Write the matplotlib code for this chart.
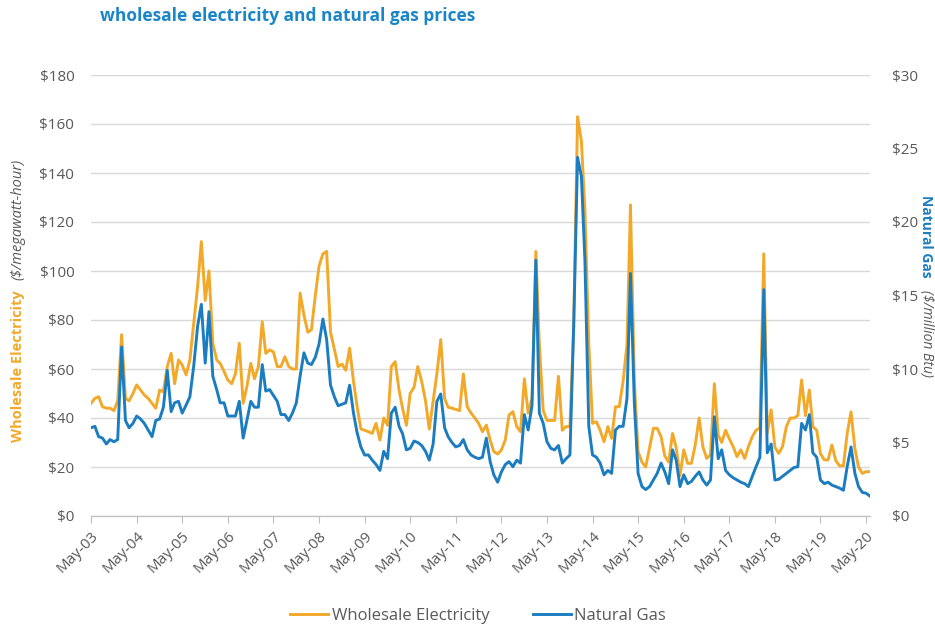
import matplotlib
matplotlib.use("Agg")
import matplotlib.pyplot as plt
import pandas as pd

# Monthly wholesale electricity ($/MWh) and natural gas ($/MMBtu), May-03 .. Jun-20
electricity = [
    46, 48, 48.7, 44.6, 44, 44, 43, 47, 74, 48, 47, 50,
    53.5, 51.4, 49.4, 48, 46, 44, 51.4, 50.7, 61, 66.4, 54, 63.7,
    61.6, 57.6, 63.7, 78.6, 93.6, 112, 88, 100, 70.5, 63.7, 62.3, 59,
    55.5, 54, 58, 70.5, 46, 52.8, 62.3, 56, 61, 79.3, 66.4, 67.8,
    67, 61, 61, 65, 61, 60, 60, 91, 82, 75, 76, 90,
    102, 107, 108, 75, 68, 61, 62, 59.5, 68.5, 55, 45, 35.5,
    35, 34.4, 33.7, 37.8, 31, 40, 37, 61, 63, 51.4, 44, 37,
    50, 52.5, 61, 55, 47, 35.5, 47, 58, 72, 48, 44.4, 44,
    43.5, 43, 58, 44.6, 42, 40, 37.8, 34.4, 37.1, 31, 26.3, 25.3,
    27, 31, 41.2, 42.6, 36.5, 34.4, 56, 42, 48, 108, 70, 43,
    39, 39, 39, 57, 35, 36.5, 36.5, 77, 163, 153, 125, 70.5,
    37.8, 38.5, 35, 30.3, 36.5, 31.7, 44.6, 44.6, 55, 70, 127, 55,
    26.3, 22, 20, 28, 35.8, 35.8, 32.4, 24.5, 22, 33.7, 28, 16.5,
    27, 21.5, 21.5, 29, 40, 28.3, 23.5, 25, 54, 33, 30, 35,
    31.5, 28.3, 24.2, 27, 23.5, 28.3, 32.4, 35, 36, 107, 33.7, 43.3,
    28, 25.6, 28.3, 36.5, 40, 40, 41, 55.5, 41, 51.4, 36.5, 35,
    25.4, 22.9, 22.9, 29, 22.6, 20.5, 20.5, 33.7, 42.5, 27.5, 20, 17.4,
    18.1, 18.1,
]

natural_gas = [
    6.0, 6.1, 5.4, 5.3, 4.9, 5.2, 5.05, 5.2, 11.5, 6.5, 6.0, 6.3,
    6.8, 6.6, 6.3, 5.85, 5.4, 6.5, 6.6, 7.4, 9.9, 7.1, 7.7, 7.8,
    7.0, 7.55, 8.1, 10.2, 12.9, 14.4, 10.4, 13.9, 9.5, 8.6, 7.7, 7.7,
    6.8, 6.8, 6.8, 7.8, 5.3, 6.5, 7.8, 7.4, 7.4, 10.3, 8.5, 8.6,
    8.2, 7.8, 6.9, 6.9, 6.5, 7.0, 7.7, 9.5, 11.1, 10.4, 10.3, 10.8,
    11.7, 13.4, 12.0, 8.9, 8.1, 7.5, 7.6, 7.7, 8.9, 7.0, 5.7, 4.7,
    4.15, 4.15, 3.8, 3.5, 3.1, 4.4, 3.9, 7.0, 7.4, 6.1, 5.6, 4.5,
    4.6, 5.1, 5.0, 4.8, 4.4, 3.8, 4.9, 7.8, 8.3, 6.0, 5.4, 5.0,
    4.7, 4.8, 5.2, 4.5, 4.15, 4.0, 3.9, 4.0, 5.3, 3.7, 2.8, 2.3,
    3.0, 3.5, 3.7, 3.35, 3.8, 3.6, 6.9, 5.85, 7.5, 17.4, 7.0, 6.3,
    5.05, 4.6, 4.5, 4.8, 3.6, 3.9, 4.15, 12.9, 24.4, 23.1, 17.4, 6.1,
    4.15, 4.0, 3.6, 2.8, 3.1, 2.9, 5.85, 6.1, 6.1, 8.0, 16.5, 7.7,
    2.9, 2.0, 1.8, 2.0, 2.45, 2.9, 3.6, 3.0, 2.2, 4.5, 3.8, 2.0,
    2.8, 2.2, 2.35, 2.7, 3.0, 2.45, 2.1, 2.45, 6.75, 3.9, 4.5, 3.1,
    2.8, 2.6, 2.45, 2.3, 2.2, 2.0, 2.7, 3.35, 4.0, 15.4, 4.3, 4.9,
    2.45, 2.5, 2.7, 2.9, 3.1, 3.3, 3.35, 6.3, 5.85, 6.9, 4.3, 4.0,
    2.45, 2.2, 2.3, 2.1, 2.0, 1.9, 1.75, 3.35, 4.7, 2.9, 2.0, 1.6,
    1.55, 1.35,
]

months = pd.date_range("2003-05-01", periods=len(electricity), freq="MS")
tick_dates = pd.date_range("2003-05-01", "2020-05-01", freq="12MS")
tick_labels = [d.strftime("%b-%y") for d in tick_dates]

left_ticks = list(range(0, 181, 20))
right_ticks = list(range(0, 31, 5))

ORANGE = "#F2A92A"
BLUE = "#1B7DC0"
GRID = "#D9D9D9"
TEXT = "#595959"
FONT = "Open Sans"

plt.rcParams["font.family"] = [FONT, "DejaVu Sans"]

fig = plt.figure(figsize=(9.35, 6.28), dpi=100)
ax = fig.add_axes([91 / 935, 1 - 516 / 628, (870 - 91) / 935, (516 - 75) / 628])
ax2 = ax.twinx()

ax.plot(months, electricity, color=ORANGE, lw=2.1, solid_joinstyle="round",
        label="Wholesale Electricity", zorder=3)
ax2.plot(months, natural_gas, color=BLUE, lw=2.1, solid_joinstyle="round",
         label="Natural Gas", zorder=3)

ax.set_xlim(months[0], months[-1])
ax.set_ylim(0, 180)
ax2.set_ylim(0, 30)

ax.set_yticks(left_ticks)
ax.set_yticklabels([f"${v}" for v in left_ticks])
ax2.set_yticks(right_ticks)
ax2.set_yticklabels([f"${v}" for v in right_ticks])

ax.set_xticks(tick_dates)
ax.set_xticklabels(tick_labels, rotation=45, ha="right", rotation_mode="anchor")

ax.grid(axis="y", color=GRID, lw=1.0)
ax.set_axisbelow(True)

for a in (ax, ax2):
    for side in ("left", "right", "top"):
        a.spines[side].set_visible(False)
    a.spines["bottom"].set_color("#BFBFBF")
    a.tick_params(axis="y", length=0, labelsize=11, labelcolor=TEXT)

ax.tick_params(axis="y", pad=12)
ax2.tick_params(axis="y", pad=16)
ax.tick_params(axis="x", length=5, color="#BFBFBF", labelsize=11,
               labelcolor=TEXT, pad=4)

# Title
fig.text(100 / 935, 1 - 16 / 628, "wholesale electricity and natural gas prices",
         color="#1A86C8", fontsize=12.5, fontweight="bold", va="center", ha="left")

# Left axis title (two styles)
fig.text(18 / 935, 1 - 366 / 628, "Wholesale Electricity", rotation=90,
         color=ORANGE, fontsize=10.5, fontweight="bold", ha="center", va="center")
fig.text(18 / 935, 1 - 219 / 628, "($/megawatt-hour)", rotation=90,
         color=TEXT, fontsize=10.5, style="italic", ha="center", va="center")

# Right axis title (two styles)
fig.text(926 / 935, 1 - 236 / 628, "Natural Gas", rotation=270,
         color=BLUE, fontsize=10, fontweight="bold", ha="center", va="center")
fig.text(926 / 935, 1 - 333 / 628, "($/million Btu)", rotation=270,
         color=TEXT, fontsize=10, style="italic", ha="center", va="center")

# Legend below the plot
h1, l1 = ax.get_legend_handles_labels()
h2, l2 = ax2.get_legend_handles_labels()
fig.legend(h1 + h2, l1 + l2, loc="center", bbox_to_anchor=(478 / 935, 1 - 616 / 628),
           ncol=2, frameon=False, fontsize=12, labelcolor=TEXT, handlelength=2.3,
           handletextpad=0.2, columnspacing=2.6)

fig.savefig("out.png", dpi=100, facecolor="white")
